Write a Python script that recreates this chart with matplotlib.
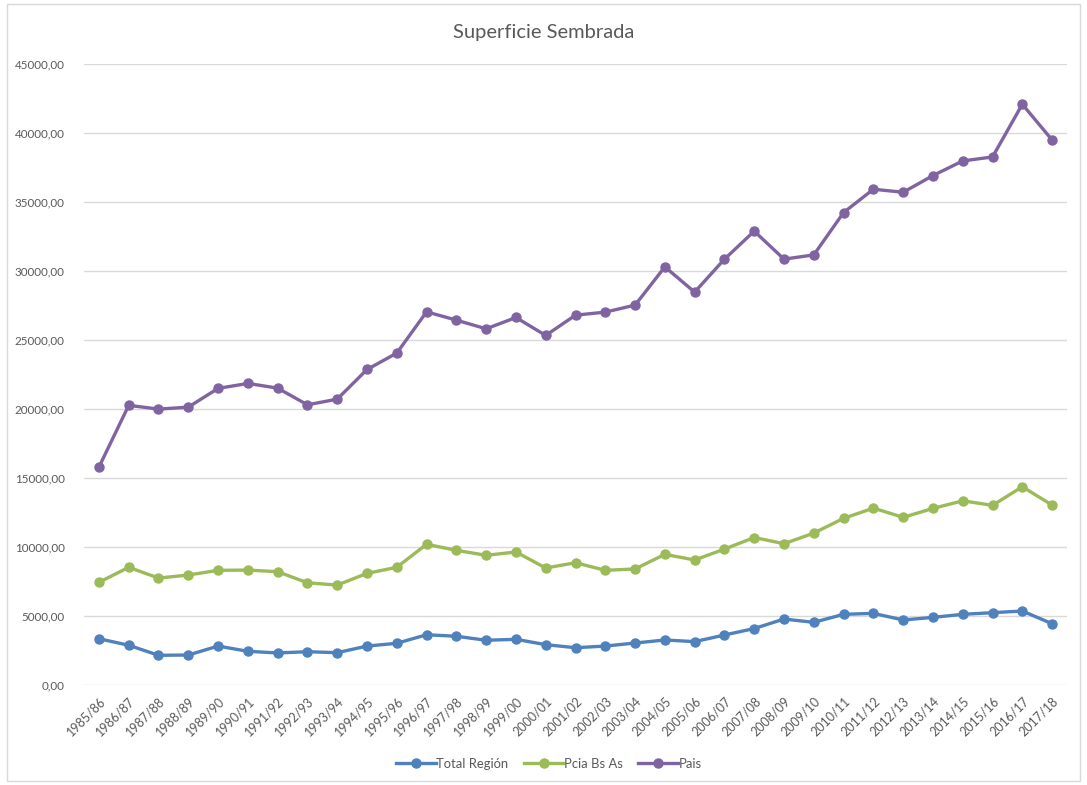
import numpy as np
import matplotlib.pyplot as plt
from matplotlib.patches import Rectangle
from matplotlib.ticker import FuncFormatter, MultipleLocator

plt.rcParams['font.family'] = ['Lato', 'DejaVu Sans']

campanas = ['1985/86', '1986/87', '1987/88', '1988/89', '1989/90', '1990/91',
            '1991/92', '1992/93', '1993/94', '1994/95', '1995/96', '1996/97',
            '1997/98', '1998/99', '1999/00', '2000/01', '2001/02', '2002/03',
            '2003/04', '2004/05', '2005/06', '2006/07', '2007/08', '2008/09',
            '2009/10', '2010/11', '2011/12', '2012/13', '2013/14', '2014/15',
            '2015/16', '2016/17', '2017/18']

total_region = [3330, 2860, 2130, 2150, 2800, 2420, 2300, 2390, 2320, 2800,
                3000, 3620, 3510, 3220, 3290, 2900, 2680, 2800, 3020, 3240,
                3120, 3600, 4070, 4760, 4520, 5100, 5170, 4690, 4880, 5100,
                5220, 5340, 4420]

pcia_bs_as = [7420, 8510, 7730, 7950, 8290, 8310, 8190, 7390, 7220, 8070,
              8510, 10180, 9740, 9380, 9620, 8460, 8840, 8290, 8390, 9450,
              9040, 9830, 10670, 10220, 10990, 12060, 12800, 12130, 12780, 13330,
              13000, 14350, 13020]

pais = [15770, 20250, 19980, 20120, 21480, 21840, 21500, 20290, 20700, 22850,
        24040, 27030, 26430, 25800, 26620, 25320, 26790, 27010, 27520, 30290,
        28460, 30850, 32880, 30850, 31160, 34230, 35920, 35700, 36910, 37970,
        38260, 42080, 39490]

series = [('Total Región', total_region, '#4F81BD'),
          ('Pcia Bs As', pcia_bs_as, '#9BBB59'),
          ('Pais', pais, '#8064A2')]

gris = '#595959'

fig = plt.figure(figsize=(10.87, 7.85), dpi=100)
ax = fig.add_axes([0.0773, 0.1278, 0.9043, 0.7907])

# marco del grafico
fig.patches.append(Rectangle((7 / 1087, 4 / 785), 1073 / 1087, 777 / 785,
                             transform=fig.transFigure, fill=False,
                             edgecolor='#D9D9D9', linewidth=1))

x = np.arange(len(campanas))
for nombre, valores, color in series:
    ax.plot(x, valores, color=color, linewidth=2.4, marker='o',
            markersize=6.5, label=nombre)

ax.set_xlim(-0.5, len(campanas) - 0.5)
ax.set_ylim(0, 45000)
ax.yaxis.set_major_locator(MultipleLocator(5000))
ax.yaxis.set_major_formatter(FuncFormatter(lambda v, p: f'{v:.2f}'.replace('.', ',')))
ax.grid(axis='y', color='#D9D9D9', linewidth=1)
ax.set_axisbelow(True)
for s in ax.spines.values():
    s.set_visible(False)

ax.set_xticks(x)
ax.set_xticklabels(campanas, rotation=45, ha='right', rotation_mode='anchor')
ax.tick_params(axis='x', length=0, pad=7, labelsize=9, labelcolor=gris)
ax.tick_params(axis='y', length=0, pad=14, labelsize=8.4, labelcolor=gris)

fig.text(0.5, 0.958, 'Superficie Sembrada', ha='center', va='center',
         fontsize=14.5, color=gris)

fig.legend(loc='center', bbox_to_anchor=(0.505, 0.027), ncol=3, frameon=False,
           fontsize=9.4, labelcolor=gris, handlelength=3.0, columnspacing=1.2,
           handletextpad=0.05)

fig.savefig('out.png', dpi=100)
